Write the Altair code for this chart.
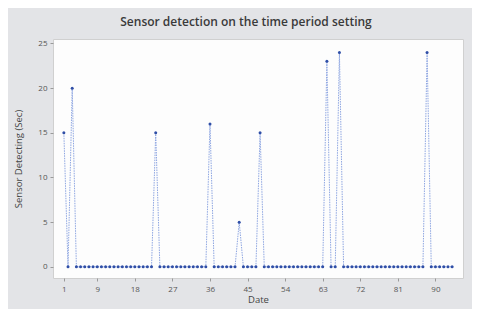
import altair as alt
import pandas as pd

# Observation index (Date) and sensor detection values in seconds
dates = list(range(1, 95))
peak_dates = [1, 3, 23, 36, 43, 48, 64, 67, 88]
peak_values = [15, 20, 15, 16, 5, 15, 23, 24, 24]
x_ticks = [1, 9, 18, 27, 36, 45, 54, 63, 72, 81, 90]
y_ticks = [0, 5, 10, 15, 20, 25]

peaks = dict(zip(peak_dates, peak_values))
values = [peaks.get(d, 0) for d in dates]
df = pd.DataFrame({"Date": dates, "Sensor": values})

FONT = "Open Sans"

x_enc = alt.X(
    "Date:Q",
    title="Date",
    scale=alt.Scale(domain=[-1.6, 96.6], nice=False, zero=False),
    axis=alt.Axis(
        values=x_ticks, grid=False, domain=False, tickSize=3, tickColor="#9a9a9a",
        labelFontSize=8, labelColor="#555555", labelFont=FONT, labelPadding=4,
        titleFontSize=9.5, titleColor="#444444", titleFont=FONT, titleFontWeight="normal",
        titlePadding=1,
    ),
)
y_enc = alt.Y(
    "Sensor:Q",
    title="Sensor Detecting (Sec)",
    scale=alt.Scale(domain=[-1.25, 25.5], nice=False, zero=False),
    axis=alt.Axis(
        values=y_ticks, grid=False, domain=False, tickSize=3, tickColor="#9a9a9a",
        labelFontSize=8, labelColor="#555555", labelFont=FONT, labelPadding=3,
        titleFontSize=9.5, titleColor="#444444", titleFont=FONT, titleFontWeight="normal",
        titlePadding=14,
    ),
)

base = alt.Chart(df).encode(x=x_enc, y=y_enc)
line = base.mark_line(color="#8ea6e2", strokeWidth=1, strokeDash=[1.5, 1])
pts = base.mark_circle(color="#2f4ea6", size=9, opacity=1)

chart = (
    (line + pts)
    .properties(
        width=410,
        height=239,
        title=alt.TitleParams(
            "Sensor detection on the time period setting",
            fontSize=12, font=FONT, fontWeight=600, color="#3a3a3a",
            anchor="middle", dx=-12, offset=10,
        ),
        autosize=alt.AutoSizeParams(type="none"),
        padding={"left": 45, "top": 31, "right": 9, "bottom": 31},
        background="#e3e4e7",
    )
    .configure_view(fill="#fdfdfd", stroke="#d0d0d0", strokeWidth=1)
)

chart.save("out.html", embed_options={"renderer": "svg", "actions": False})
